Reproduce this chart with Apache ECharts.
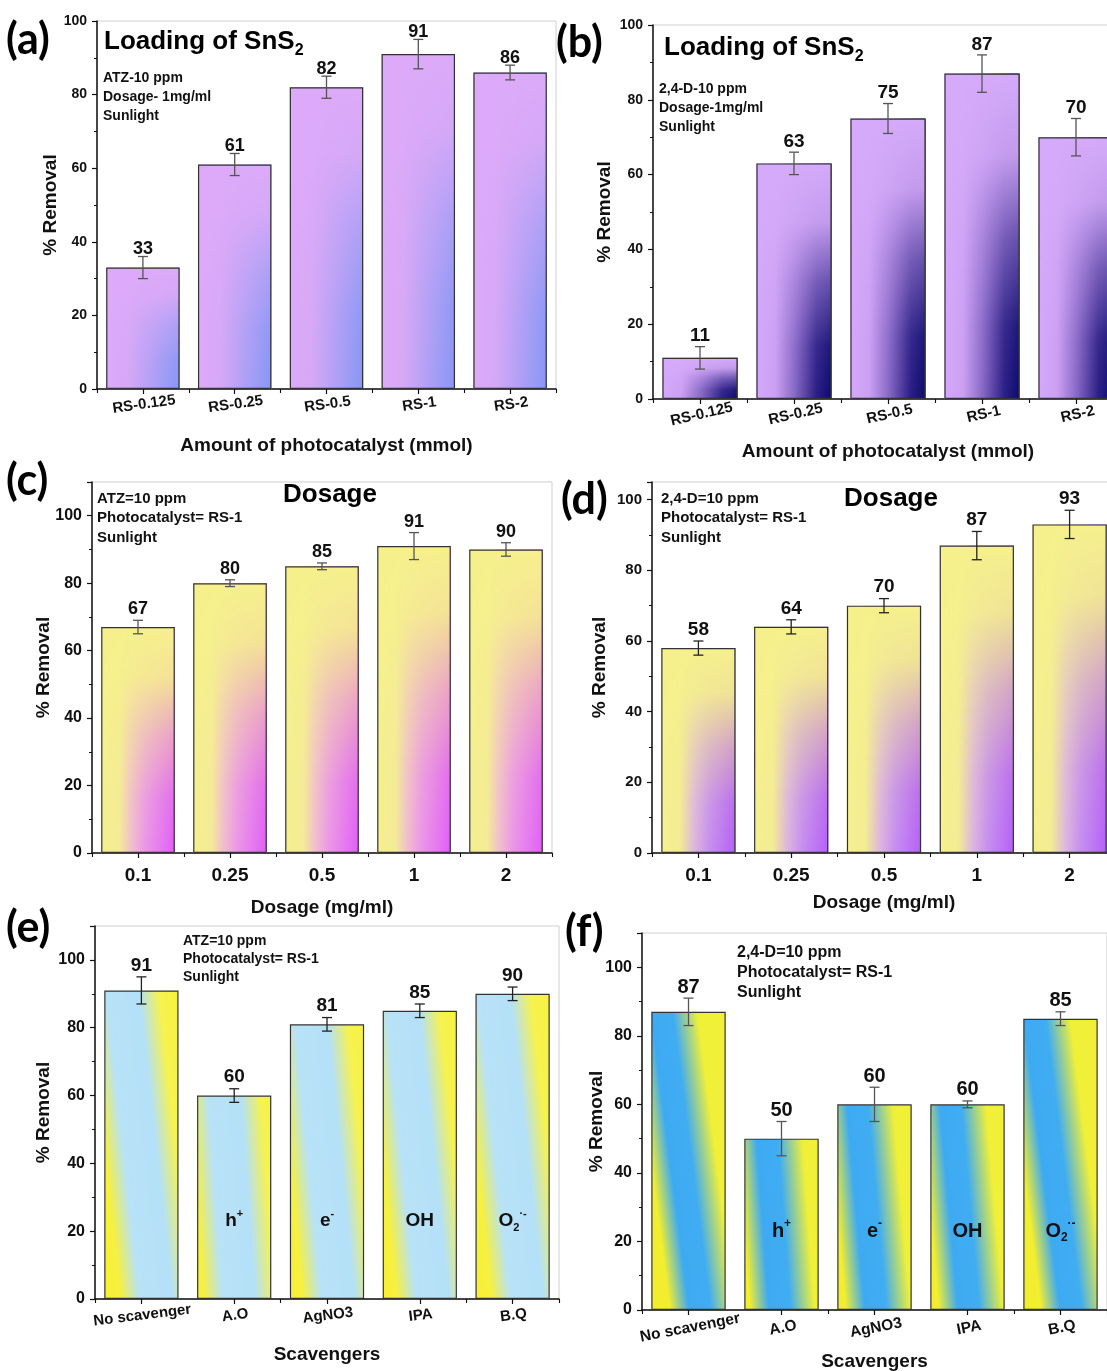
<!DOCTYPE html>
<html>
<head>
<meta charset="utf-8">
<script src="https://cdn.jsdelivr.net/npm/echarts@6/dist/echarts.min.js"></script>
<style>
  html, body { margin: 0; padding: 0; background: #ffffff; }
  #chart { width: 1107px; height: 1371px; }
</style>
</head>
<body>
<div id="chart"></div>
<script>
// ---- data ----
const loadingCats = ['RS-0.125', 'RS-0.25', 'RS-0.5', 'RS-1', 'RS-2'];
const atzLoading = [33, 61, 82, 91, 86];
const atzLoadingErr = [3, 3, 3, 4, 2];
const dLoading = [11, 63, 75, 87, 70];
const dLoadingErr = [3, 3, 4, 5, 5];

const dosageCats = ['0.1', '0.25', '0.5', '1', '2'];
const atzDosage = [67, 80, 85, 91, 90];
const atzDosageErr = [2, 1, 1, 4, 2];
const dDosage = [58, 64, 70, 87, 93];
const dDosageErr = [2, 2, 2, 4, 4];

const scavCats = ['No scavenger', 'A.O', 'AgNO3', 'IPA', 'B.Q'];
const atzScav = [91, 60, 81, 85, 90];
const atzScavErr = [4, 2, 2, 2, 2];
const dScav = [87, 50, 60, 60, 85];
const dScavErr = [4, 5, 5, 1, 2];

// reactive species quenched by each scavenger (rich-text markup)
const speciesLabels = ['', '{b|h}{sup|+}', '{b|e}{sup|-}', '{b|OH}', '{b|O}{sub|2}{sup|·-}'];
const speciesLevel = 23;   // height (in % removal units) where the species names sit

const FONT = '"Liberation Sans", Arial, Helvetica, sans-serif';
const LETTER_FONT = 'Lato, "Open Sans", sans-serif';
const INK = '#111111';

// ---- fills ----
function stops(list) { return list.map(([offset, color]) => ({ offset, color })); }
function hGrad(list) { return { type: 'linear', x: 0, y: 0, x2: 1, y2: 0, colorStops: stops(list) }; }
function vFade(rgb, list) {
  return { type: 'linear', x: 0, y: 0, x2: 0, y2: 1,
           colorStops: list.map(([o, a]) => ({ offset: o, color: `rgba(${rgb},${a})` })) };
}
function tilted(list, dy) {
  return { type: 'linear', x: -0.25, y: 0.5, x2: 1.25, y2: 0.5 + dy, colorStops: stops(list) };
}
const fadeSteps = [[0, 1], [0.22, 0.9], [0.48, 0.45], [0.75, 0.1], [1, 0]];

const lilacBlueBase = hGrad([[0, '#dcaaf8'], [0.3, '#d6a8f6'], [1, '#8597f4']]);
const lilacBlueTop = vFade('220,170,248', fadeSteps);
const lilacNavyBase = hGrad([[0, '#d4a8fa'], [0.25, '#cba0f3'], [0.5, '#8a6ac8'], [0.8, '#2a1e84'], [1, '#0c0a6e']]);
const lilacNavyTop = vFade('213,170,250', [[0, 1], [0.25, 0.9], [0.5, 0.45], [0.78, 0.08], [1, 0]]);
const yellowMagentaBase = hGrad([[0, '#f6f08e'], [0.25, '#f4ea98'], [0.4, '#f0c0cc'], [0.6, '#ea96e8'], [1, '#e05ef8']]);
const yellowPurpleBase = hGrad([[0, '#f5f08e'], [0.25, '#f3ec94'], [0.45, '#dcb4e0'], [0.65, '#c68ef0'], [1, '#b45ff8']]);
const yellowTop = vFade('246,240,140', fadeSteps);
const paleStripe = tilted([[0, '#f8f030'], [0.16, '#f6f040'], [0.33, '#b8e2f6'], [0.62, '#b4e0f8'], [0.8, '#f6f250'], [1, '#f8f23a']], -0.04);
const skyStripe = tilted([[0, '#f2ee2a'], [0.16, '#f2ee30'], [0.33, '#3eaaf2'], [0.52, '#40acf2'], [0.74, '#f0f038'], [1, '#f0f038']], -0.048);

// ---- panel definitions ----
const panels = [
  { cats: loadingCats, vals: atzLoading, errs: atzLoadingErr,
    grid: { left: 97, top: 21, width: 459, height: 368 }, yMax: 100, yLabelSize: 14, yNameGap: 37,
    xRot: 8, xLabelSize: 15, xMargin: 8, xName: 'Amount of photocatalyst (mmol)', xNameGap: 47,
    valSize: 18, valLift: -3, errColor: '#555', base: lilacBlueBase, top: lilacBlueTop },
  { cats: loadingCats, vals: dLoading, errs: dLoadingErr,
    grid: { left: 653, top: 25, width: 470, height: 374 }, yMax: 100, yLabelSize: 14, yNameGap: 39,
    xRot: 13, xLabelSize: 15, xMargin: 8, xName: 'Amount of photocatalyst (mmol)', xNameGap: 43,
    valSize: 19, valLift: 0, errColor: '#555', base: lilacNavyBase, top: lilacNavyTop },
  { cats: dosageCats, vals: atzDosage, errs: atzDosageErr,
    grid: { left: 92, top: 482, width: 460, height: 371 }, yMax: 110, yLabelSize: 16, yNameGap: 39,
    xRot: 0, xLabelSize: 19, xMargin: 13, xName: 'Dosage (mg/ml)', xNameGap: 45,
    valSize: 18, valLift: 1, errColor: '#555', base: yellowMagentaBase, top: yellowTop },
  { cats: dosageCats, vals: dDosage, errs: dDosageErr,
    grid: { left: 652, top: 482, width: 464, height: 371 }, yMax: 105, yLabelSize: 15, yNameGap: 43,
    xRot: 0, xLabelSize: 19, xMargin: 13, xName: 'Dosage (mg/ml)', xNameGap: 40,
    valSize: 19, valLift: 1, errColor: '#222', base: yellowPurpleBase, top: yellowTop },
  { cats: scavCats, vals: atzScav, errs: atzScavErr,
    grid: { left: 95, top: 926, width: 464, height: 373 }, yMax: 110, yLabelSize: 16, yNameGap: 42,
    xRot: 7, xLabelSize: 15, xMargin: 9, xName: 'Scavengers', xNameGap: 46,
    valSize: 19, valLift: 1, errColor: '#222', base: paleStripe, species: speciesLabels, speciesSize: 19 },
  { cats: scavCats, vals: dScav, errs: dScavErr,
    grid: { left: 642, top: 933, width: 465, height: 377 }, yMax: 110, yLabelSize: 16, yNameGap: 36,
    xRot: 11, xLabelSize: 15.5, xMargin: 10, xName: 'Scavengers', xNameGap: 42,
    valSize: 20, valLift: 0, errColor: '#555', base: skyStripe, species: speciesLabels, speciesSize: 20 }
];

// ---- renderers ----
function errorRenderer(p) {
  return function (params, api) {
    const k = api.value(0), v = api.value(1), e = api.value(2);
    const hi = api.coord([k, v + e]);
    const lo = api.coord([k, v - e]);
    const x = hi[0], cap = 5;
    const ls = { stroke: p.errColor, lineWidth: 1.3 };
    return {
      type: 'group',
      children: [
        { type: 'line', shape: { x1: x, y1: hi[1], x2: x, y2: lo[1] }, style: ls },
        { type: 'line', shape: { x1: x - cap, y1: hi[1], x2: x + cap, y2: hi[1] }, style: ls },
        { type: 'line', shape: { x1: x - cap, y1: lo[1], x2: x + cap, y2: lo[1] }, style: ls },
        { type: 'text', x: x, y: hi[1] - 1 - p.valLift,
          style: { text: String(v), align: 'center', verticalAlign: 'bottom',
                   textAlign: 'center', textVerticalAlign: 'bottom',
                   fontSize: p.valSize, fontWeight: 'bold', fontFamily: FONT, fill: INK } }
      ]
    };
  };
}

function speciesRich(s) {
  const small = Math.round(s * 0.6);
  return {
    b: { fontSize: s, fontWeight: 'bold', fontFamily: FONT, lineHeight: s + 6, fill: INK },
    sup: { fontSize: small, fontWeight: 'bold', fontFamily: FONT, lineHeight: small, verticalAlign: 'top', fill: INK },
    sub: { fontSize: small, fontWeight: 'bold', fontFamily: FONT, lineHeight: small, verticalAlign: 'bottom', fill: INK }
  };
}

function speciesRenderer(p) {
  return function (params, api) {
    const pt = api.coord([api.value(0), api.value(1)]);
    return {
      type: 'text', x: pt[0], y: pt[1],
      style: { text: p.species[params.dataIndex], rich: speciesRich(p.speciesSize),
               align: 'center', verticalAlign: 'middle', textAlign: 'center', textVerticalAlign: 'middle',
               fontSize: p.speciesSize, fontWeight: 'bold', fontFamily: FONT, fill: INK }
    };
  };
}

// ---- build option ----
const grids = [], xAxes = [], yAxes = [], series = [];
const axisLine = { show: true, lineStyle: { color: INK, width: 1.5 } };
const nameStyle = { fontSize: 19, fontWeight: 'bold', fontFamily: FONT, color: INK };

panels.forEach((p, i) => {
  grids.push(Object.assign({ show: true, borderColor: '#cfcfcf', borderWidth: 1,
                             backgroundColor: '#ffffff', containLabel: false, outerBoundsMode: 'none' }, p.grid));

  xAxes.push({
    gridIndex: i, type: 'category', data: p.cats, position: 'bottom', boundaryGap: true,
    axisLine: axisLine,
    axisTick: { show: true, alignWithLabel: true, length: 5, lineStyle: { color: INK, width: 1.2 } },
    axisLabel: { interval: 0, rotate: p.xRot, align: 'center', verticalAlign: 'top', margin: p.xMargin,
                 fontSize: p.xLabelSize, fontWeight: 'bold', fontFamily: FONT, color: INK },
    splitLine: { show: false },
    name: p.xName, nameLocation: 'middle', nameGap: p.xNameGap, nameMoveOverlap: false,
    nameTextStyle: nameStyle
  });
  // boundary ticks between categories
  xAxes.push({
    gridIndex: i, type: 'category', data: p.cats, position: 'bottom', boundaryGap: true,
    axisLine: { show: false },
    axisTick: { show: true, alignWithLabel: false, length: 4, lineStyle: { color: INK, width: 1.1 } },
    axisLabel: { show: false }, splitLine: { show: false }
  });

  yAxes.push({
    gridIndex: i, type: 'value', min: 0, max: p.yMax, interval: 20,
    axisLine: axisLine,
    axisTick: { show: true, length: 5, lineStyle: { color: INK, width: 1.2 } },
    minorTick: { show: true, splitNumber: 2, length: 3, lineStyle: { color: INK, width: 1 } },
    splitLine: { show: false }, minorSplitLine: { show: false },
    axisLabel: { showMaxLabel: p.yMax === 100, margin: 10,
                 fontSize: p.yLabelSize, fontWeight: 'bold', fontFamily: FONT, color: INK },
    name: '% Removal', nameLocation: 'middle', nameRotate: 90, nameGap: p.yNameGap, nameMoveOverlap: false,
    nameTextStyle: nameStyle
  });

  const xi = 2 * i;
  series.push({
    type: 'bar', xAxisIndex: xi, yAxisIndex: i, data: p.vals, silent: true, z: 2,
    barCategoryGap: '20%', barGap: '-100%',
    itemStyle: { color: p.base, borderColor: p.top ? 'rgba(0,0,0,0)' : '#333', borderWidth: p.top ? 0 : 1.2 }
  });
  if (p.top) {
    series.push({
      type: 'bar', xAxisIndex: xi, yAxisIndex: i, data: p.vals, silent: true, z: 2,
      barCategoryGap: '20%', barGap: '-100%',
      itemStyle: { color: p.top, borderColor: '#333', borderWidth: 1.2 }
    });
  }
  series.push({
    type: 'custom', xAxisIndex: xi, yAxisIndex: i, silent: true, z: 5,
    data: p.vals.map((v, k) => [k, v, p.errs[k]]),
    renderItem: errorRenderer(p)
  });
  if (p.species) {
    series.push({
      type: 'custom', xAxisIndex: xi, yAxisIndex: i, silent: true, z: 5,
      data: p.species.map((s, k) => [k, speciesLevel]),
      renderItem: speciesRenderer(p)
    });
  }
});

// ---- panel letters, headings and condition notes ----
function letter(x, y, t) {
  return { type: 'text', x, y, silent: true,
    style: { text: t, fontSize: 43, fontWeight: 'bold', fontFamily: LETTER_FONT, fill: '#000',
             align: 'left', verticalAlign: 'middle', textAlign: 'left', textVerticalAlign: 'middle' } };
}
function heading(x, y, t, size, align) {
  return { type: 'text', x, y, silent: true,
    style: { text: t, fontSize: size, fontWeight: 'bold', fontFamily: FONT, fill: '#000', lineHeight: size + 7,
             align: align, verticalAlign: 'middle', textAlign: align, textVerticalAlign: 'middle',
             rich: { sub: { fontSize: Math.round(size * 0.6), fontWeight: 'bold', fontFamily: FONT, fill: '#000',
                            lineHeight: Math.round(size * 0.6), verticalAlign: 'bottom' } } } };
}
function notes(x, y, lines, size, lh) {
  return { type: 'text', x, y, silent: true,
    style: { text: lines.join('\n'), fontSize: size, fontWeight: 'bold', fontFamily: FONT, fill: INK, lineHeight: lh,
             align: 'left', verticalAlign: 'top', textAlign: 'left', textVerticalAlign: 'top' } };
}

const graphics = [
  letter(6, 40, '(a)'),
  heading(104, 42, 'Loading of SnS{sub|2}', 26, 'left'),
  notes(103, 69, ['ATZ-10 ppm', 'Dosage- 1mg/ml', 'Sunlight'], 14, 19),

  letter(556, 43, '(b)'),
  heading(664, 48, 'Loading of SnS{sub|2}', 26, 'left'),
  notes(659, 80, ['2,4-D-10 ppm', 'Dosage-1mg/ml', 'Sunlight'], 14, 19),

  letter(6, 481, '(c)'),
  heading(330, 495, 'Dosage', 26, 'center'),
  notes(97, 489, ['ATZ=10 ppm', 'Photocatalyst= RS-1', 'Sunlight'], 15, 19.5),

  letter(561, 500, '(d)'),
  heading(891, 499, 'Dosage', 26, 'center'),
  notes(661, 489, ['2,4-D=10 ppm', 'Photocatalyst= RS-1', 'Sunlight'], 15, 19.5),

  letter(6, 928, '(e)'),
  notes(183, 932, ['ATZ=10 ppm', 'Photocatalyst= RS-1', 'Sunlight'], 14, 18),

  letter(565, 932, '(f)'),
  notes(737, 943, ['2,4-D=10 ppm', 'Photocatalyst= RS-1', 'Sunlight'], 16, 20)
];

const chart = echarts.init(document.getElementById('chart'), null, { renderer: 'canvas' });
chart.setOption({
  backgroundColor: '#ffffff',
  animation: false,
  grid: grids,
  xAxis: xAxes,
  yAxis: yAxes,
  series: series,
  graphic: graphics
});
</script>
</body>
</html>
